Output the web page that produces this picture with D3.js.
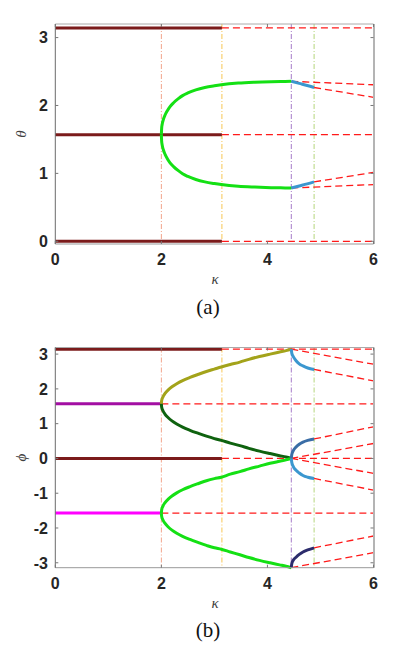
<!DOCTYPE html>
<html>
<head>
<meta charset="utf-8">
<script src="https://cdn.jsdelivr.net/npm/d3@7"></script>
<style>
  body { margin: 0; background: #fff; }
  svg { display: block; }
  .tick-label { font-family: "Liberation Sans", Arial, sans-serif; font-weight: bold; font-size: 16px; fill: #262626; }
  .axis-title { font-family: "Liberation Serif", "DejaVu Serif", serif; font-style: italic; font-size: 15px; fill: #404040; }
  .caption { font-family: "Liberation Serif", "DejaVu Serif", serif; font-size: 21px; fill: #111; }
</style>
</head>
<body>
<svg id="chart" width="416" height="649"></svg>
<script>
var PI = Math.PI;

// x ticks, y ticks
var kTicks = [0, 2, 4, 6];
var thetaTicks = [0, 1, 2, 3];
var phiTicks = [-3, -2, -1, 0, 1, 2, 3];

// bifurcation markers (kappa)
var kMarks = [2, PI, 4.45, 4.88];

// fixed branches, kappa from 0
var thetaFixed = [0, PI / 2, PI];          // stable for kappa < pi
var phiFixedPi = [0, PI];                  // stable for kappa < pi
var phiFixedHalf = [PI / 2, -PI / 2];      // stable for kappa < 2

// (a) green branch
var kBranchA = [2.0, 2.005, 2.015, 2.04, 2.07, 2.11, 2.16, 2.23, 2.32, 2.40, 2.50, 2.65, 2.82, 3.0, 3.13, 3.45, 3.76, 4.07, 4.25, 4.45];
var thetaUp  = [1.571, 1.66, 1.72, 1.80, 1.86, 1.92, 1.98, 2.04, 2.10, 2.145, 2.185, 2.23, 2.265, 2.29, 2.305, 2.33, 2.343, 2.351, 2.354, 2.356];
var thetaLow = [1.571, 1.48, 1.42, 1.34, 1.28, 1.22, 1.16, 1.10, 1.04, 0.995, 0.955, 0.91, 0.875, 0.85, 0.835, 0.81, 0.798, 0.79, 0.787, 0.785];

// (a) blue branch
var kBlueA = [4.45, 4.6, 4.75, 4.88];
var thetaBlueUp  = [2.356, 2.325, 2.295, 2.265];
var thetaBlueLow = [0.785, 0.815, 0.845, 0.875];

// (a) unstable branches beyond 4.45: [kappa, theta] pairs
var unstableA = [
  [[4.45, 2.356], [6, 2.305]],
  [[4.88, 2.265], [6, 2.12]],
  [[4.88, 0.875], [6, 1.015]],
  [[4.45, 0.785], [6, 0.835]]
];

// (b) branches out of phi = +-pi/2 at kappa = 2
var kBranchB = [2.0, 2.005, 2.03, 2.07, 2.13, 2.2, 2.29, 2.4, 2.54, 2.7, 2.85, 3.0, 3.13, 3.3, 3.48, 3.65, 3.85, 4.05, 4.23, 4.35, 4.45];
var phiOlive = [1.571, 1.66, 1.77, 1.87, 1.97, 2.06, 2.15, 2.24, 2.33, 2.42, 2.50, 2.57, 2.63, 2.70, 2.77, 2.85, 2.93, 3.00, 3.06, 3.10, 3.1416];
var phiDark  = [1.571, 1.48, 1.37, 1.27, 1.17, 1.08, 0.99, 0.90, 0.81, 0.72, 0.64, 0.57, 0.52, 0.44, 0.37, 0.29, 0.21, 0.14, 0.08, 0.04, 0];
var phiGreenUp  = [-1.571, -1.48, -1.37, -1.27, -1.17, -1.08, -0.99, -0.90, -0.81, -0.72, -0.64, -0.58, -0.54, -0.45, -0.38, -0.30, -0.22, -0.14, -0.08, -0.04, 0];
var phiGreenLow = [-1.571, -1.66, -1.77, -1.87, -1.97, -2.06, -2.15, -2.24, -2.33, -2.42, -2.50, -2.57, -2.61, -2.69, -2.77, -2.85, -2.93, -3.00, -3.06, -3.10, -3.1416];

// (b) blue branches beyond 4.45
var kBlueB = [4.45, 4.46, 4.49, 4.54, 4.6, 4.67, 4.76, 4.88];
var phiBlueTop = [3.1416, 3.02, 2.92, 2.81, 2.72, 2.66, 2.60, 2.56];
var phiSteel   = [0, 0.12, 0.23, 0.33, 0.41, 0.47, 0.52, 0.56];
var phiBlueLow = [0, -0.12, -0.24, -0.34, -0.42, -0.49, -0.54, -0.575];
var phiNavy    = [-3.1416, -3.02, -2.92, -2.84, -2.76, -2.69, -2.63, -2.57];

// (b) unstable branches beyond 4.45
var unstableB = [
  [[4.45, PI], [6, 2.71]],
  [[4.88, 2.56], [6, 2.23]],
  [[4.45, 0], [6, 0.43]],
  [[4.88, 0.56], [6, 0.91]],
  [[4.45, 0], [6, -0.43]],
  [[4.88, -0.575], [6, -0.91]],
  [[4.45, -PI], [6, -2.71]],
  [[4.88, -2.57], [6, -2.23]]
];

var COL = {
  maroon: "#7b1b1b", red: "#ff1a1a", green: "#14e014", blue: "#3b97cf",
  olive: "#a3a31a", dark: "#0f620f", purple: "#a30fa3", magenta: "#ff00ff",
  steel: "#3a6da6", navy: "#2c2c6c"
};
var markColors = ["#f2a48c", "#f7c654", "#a67bc8", "#b5d67c"];

var svg = d3.select("#chart");
var left = 55.3, right = 373.5;
var x = d3.scaleLinear().domain([0, 6]).range([left, right]);

function zip(ks, vs) { return ks.map(function(k, i) { return [k, vs[i]]; }); }

function drawPanel(top, bottom, domain, yTicks, title, caption, captionY, solids, dashed) {
  var y = d3.scaleLinear().domain(domain).range([bottom, top]);
  var g = svg.append("g");
  var line = d3.line().x(function(d) { return x(d[0]); }).y(function(d) { return y(d[1]); }).curve(d3.curveMonotoneX);

  // dash-dot markers
  kMarks.forEach(function(k, i) {
    g.append("line")
      .attr("x1", x(k)).attr("x2", x(k)).attr("y1", top).attr("y2", bottom)
      .attr("stroke", markColors[i]).attr("stroke-width", 1)
      .attr("stroke-dasharray", "5,2,1,2");
  });

  // unstable
  dashed.forEach(function(pts) {
    g.append("path").attr("d", line(pts)).attr("fill", "none")
      .attr("stroke", COL.red).attr("stroke-width", 1.3)
      .attr("stroke-dasharray", "7,4");
  });

  // stable
  solids.forEach(function(s) {
    g.append("path").attr("d", line(s.pts)).attr("fill", "none")
      .attr("stroke", COL[s.c]).attr("stroke-width", 3)
      .attr("stroke-linecap", "butt");
  });

  // frame
  g.append("line").attr("x1", left).attr("x2", right).attr("y1", top).attr("y2", top).attr("stroke", "#aaa");
  g.append("line").attr("x1", left).attr("x2", right).attr("y1", bottom).attr("y2", bottom).attr("stroke", "#999");
  g.append("line").attr("x1", left).attr("x2", left).attr("y1", top).attr("y2", bottom).attr("stroke", "#6b6b6b");
  g.append("line").attr("x1", right + 0.5).attr("x2", right + 0.5).attr("y1", top).attr("y2", bottom).attr("stroke", "#b4b4b4").attr("stroke-width", 2);

  // ticks
  kTicks.forEach(function(k) {
    g.append("line").attr("x1", x(k)).attr("x2", x(k)).attr("y1", bottom).attr("y2", bottom - 3).attr("stroke", "#777");
    g.append("line").attr("x1", x(k)).attr("x2", x(k)).attr("y1", top).attr("y2", top + 3).attr("stroke", "#777");
    g.append("text").attr("class", "tick-label").attr("x", x(k)).attr("y", bottom + 21)
      .attr("text-anchor", "middle").text(k);
  });
  yTicks.forEach(function(t) {
    g.append("line").attr("x1", left).attr("x2", left + 3).attr("y1", y(t)).attr("y2", y(t)).attr("stroke", "#777");
    g.append("line").attr("x1", right).attr("x2", right - 3).attr("y1", y(t)).attr("y2", y(t)).attr("stroke", "#777");
    g.append("text").attr("class", "tick-label").attr("x", 48).attr("y", y(t))
      .attr("dy", "0.36em").attr("text-anchor", "end").text(t);
  });

  g.append("text").attr("class", "axis-title").attr("text-anchor", "middle")
    .attr("transform", "translate(26," + ((top + bottom) / 2) + ") rotate(-90)").text(title);
  g.append("text").attr("class", "axis-title").attr("x", 215).attr("y", bottom + 40)
    .attr("text-anchor", "middle").text("κ");
  g.append("text").attr("class", "caption").attr("x", 208).attr("y", captionY)
    .attr("text-anchor", "middle").text(caption);
}

// panel (a)
var solidsA = thetaFixed.map(function(t) { return { c: "maroon", pts: [[0, t], [PI, t]] }; })
  .concat([
    { c: "green", pts: zip(kBranchA, thetaUp) },
    { c: "green", pts: zip(kBranchA, thetaLow) },
    { c: "blue", pts: zip(kBlueA, thetaBlueUp) },
    { c: "blue", pts: zip(kBlueA, thetaBlueLow) }
  ]);
var dashedA = thetaFixed.map(function(t) { return [[PI, t], [6, t]]; }).concat(unstableA);
drawPanel(24, 244, [-0.04, 3.2], thetaTicks, "θ", "(a)", 314, solidsA, dashedA);

// panel (b)
var solidsB = phiFixedPi.map(function(p) { return { c: "maroon", pts: [[0, p], [PI, p]] }; })
  .concat([
    { c: "purple", pts: [[0, phiFixedHalf[0]], [2, phiFixedHalf[0]]] },
    { c: "magenta", pts: [[0, phiFixedHalf[1]], [2, phiFixedHalf[1]]] },
    { c: "olive", pts: zip(kBranchB, phiOlive) },
    { c: "dark", pts: zip(kBranchB, phiDark) },
    { c: "green", pts: zip(kBranchB, phiGreenUp) },
    { c: "green", pts: zip(kBranchB, phiGreenLow) },
    { c: "blue", pts: zip(kBlueB, phiBlueTop) },
    { c: "steel", pts: zip(kBlueB, phiSteel) },
    { c: "blue", pts: zip(kBlueB, phiBlueLow) },
    { c: "navy", pts: zip(kBlueB, phiNavy) }
  ]);
var dashedB = phiFixedPi.map(function(p) { return [[PI, p], [6, p]]; })
  .concat(phiFixedHalf.map(function(p) { return [[2, p], [6, p]]; }))
  .concat(unstableB);
drawPanel(347.5, 567.7, [-PI, 3.19], phiTicks, "ϕ", "(b)", 637, solidsB, dashedB);
</script>
</body>
</html>
